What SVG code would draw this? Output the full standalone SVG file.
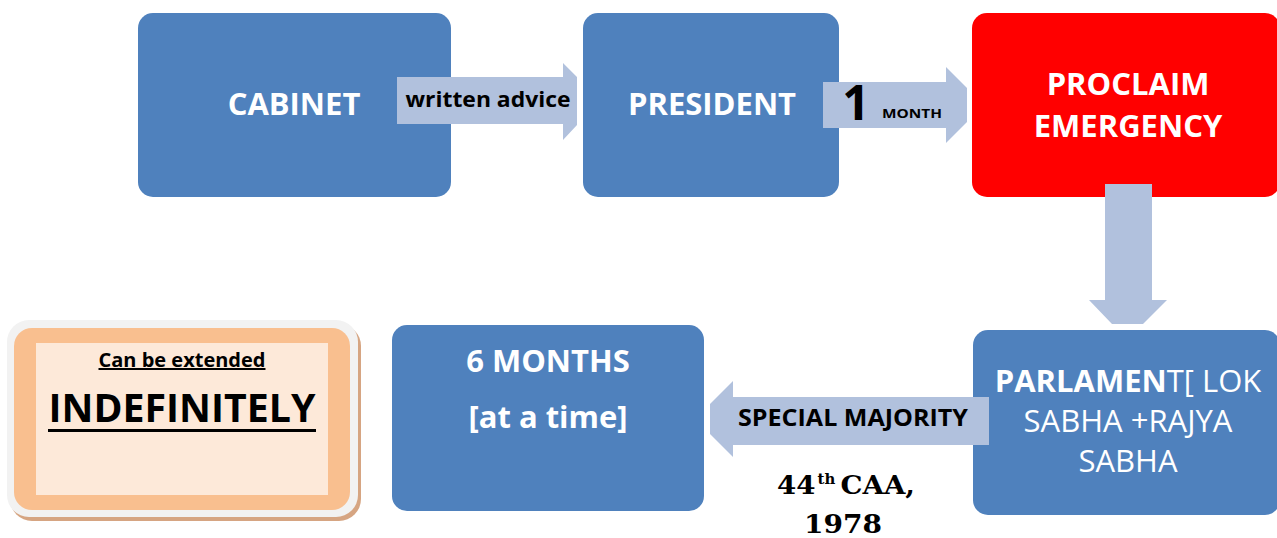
<svg xmlns="http://www.w3.org/2000/svg" width="1277" height="538" viewBox="0 0 1277 538">
  <style>
    .box { fill: #4F81BD; }
    .alert { fill: #FF0000; }
    .arrow { fill: #B1C1DD; }
    .wt { font-family: "Open Sans", "Liberation Sans", sans-serif; fill: #FFFFFF; text-anchor: middle; }
    .bk { font-family: "Open Sans", "Liberation Sans", sans-serif; fill: #000000; text-anchor: middle; font-weight: bold; }
    .b { font-weight: bold; }
    .serif { font-family: "DejaVu Serif", "Liberation Serif", serif; font-weight: bold; fill: #000000; }
  </style>
  <rect width="1277" height="538" fill="#FFFFFF"/>

  <!-- top row -->
  <g id="cabinet">
    <rect class="box" x="138" y="13" width="313" height="184" rx="15"/>
    <text class="wt b" x="294" y="115" font-size="31">CABINET</text>
  </g>
  <g id="president">
    <rect class="box" x="583" y="13" width="256" height="184" rx="15"/>
    <text class="wt b" x="712" y="115" font-size="31">PRESIDENT</text>
  </g>
  <g id="proclaim">
    <rect class="alert" x="972" y="13" width="308" height="184" rx="15"/>
    <text class="wt b" x="1128" y="95" font-size="31">PROCLAIM</text>
    <text class="wt b" x="1128" y="137" font-size="31">EMERGENCY</text>
  </g>

  <!-- bottom row -->
  <g id="parliament">
    <rect class="box" x="973" y="330" width="307" height="185" rx="15"/>
    <text class="wt" x="1128" y="392" font-size="31"><tspan font-weight="bold">PARLAMEN</tspan>T[ LOK</text>
    <text class="wt" x="1128" y="432" font-size="31">SABHA +RAJYA</text>
    <text class="wt" x="1128" y="472" font-size="31">SABHA</text>
  </g>
  <g id="six-months">
    <rect class="box" x="392" y="325" width="312" height="186" rx="15"/>
    <text class="wt b" x="548" y="372" font-size="31">6 MONTHS</text>
    <text class="wt b" x="548" y="428" font-size="31">[at a time]</text>
  </g>
  <g id="indefinitely">
    <rect x="10" y="324" width="351" height="197" rx="22" fill="#D6A582"/>
    <rect x="7" y="320" width="351" height="197" rx="22" fill="#F2F2F2"/>
    <rect x="14" y="328" width="336" height="182" rx="18" fill="#F9BF8F"/>
    <rect x="36" y="343" width="292" height="152" fill="#FDE9D9"/>
    <text class="bk" x="182" y="367" font-size="20" text-decoration="underline">Can be extended</text>
    <text class="bk" x="182" y="422" font-size="39" textLength="267" lengthAdjust="spacingAndGlyphs">INDEFINITELY</text>
    <rect x="48" y="429" width="268" height="3" fill="#000000"/>
  </g>

  <!-- connectors -->
  <g id="connectors">
    <polygon class="arrow" points="397,77 563,77 563,63 577,77 577,125 563,140 563,124 397,124"/>
    <text class="bk" x="488" y="107" font-size="22" textLength="165" lengthAdjust="spacingAndGlyphs">written advice</text>

    <polygon class="arrow" points="823,82 946,82 946,67 967,88 967,122 946,143 946,128 823,128"/>
    <text class="bk" x="856" y="120" font-size="48">1</text>
    <text class="bk" x="912" y="118" font-size="13" textLength="60" lengthAdjust="spacingAndGlyphs">MONTH</text>

    <polygon class="arrow" points="1105,184 1152,184 1152,300 1167,300 1143,324 1112,324 1089,300 1105,300"/>

    <polygon class="arrow" points="989,397 733,397 733,381 710,404 710,434 733,457 733,445 989,445"/>
    <text class="bk" x="853" y="426" font-size="24" textLength="230" lengthAdjust="spacingAndGlyphs">SPECIAL MAJORITY</text>

    <!-- amendment note under the arrow -->
    <text class="serif" x="777" y="494" font-size="26" textLength="138" lengthAdjust="spacingAndGlyphs">44<tspan font-size="14" dy="-10" dx="2">th</tspan><tspan dy="10" dx="5">CAA,</tspan></text>
    <text class="serif" x="843" y="533" font-size="26" text-anchor="middle" textLength="78" lengthAdjust="spacingAndGlyphs">1978</text>
  </g>
</svg>
